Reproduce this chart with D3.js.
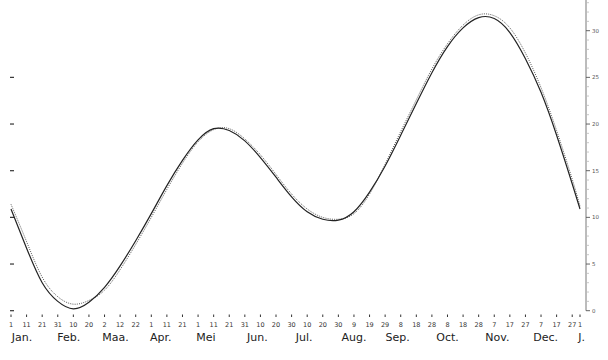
<!DOCTYPE html>
<html>
<head>
<meta charset="utf-8">
<script src="https://cdn.jsdelivr.net/npm/d3@7"></script>
<style>
  body { margin: 0; background: #fff; }
  svg { display: block; }
</style>
</head>
<body>
<div id="chart"></div>
<script>
const width = 608, height = 360

// DATA (day offset from 1 Jan)
const days = [0,10,20,30,40,50,60,70,80,90,100,110,120,130,140,150,160,170,180,190,200,210,220,230,240,250,260,270,280,290,300,310,320,330,340,350,360,365]
const solidValues = [10.9,6.7,3.0,1.0,0.2,0.9,2.5,4.8,7.5,10.4,13.4,16.1,18.3,19.5,19.3,18.2,16.4,14.3,12.2,10.6,9.8,9.7,10.6,12.7,15.5,18.8,22.2,25.5,28.3,30.3,31.4,31.3,29.8,27.0,23.4,18.8,13.6,10.9]
const dottedValues = [11.4,7.4,3.6,1.5,0.7,1.1,2.2,4.4,7.1,10.0,13.0,15.8,18.1,19.4,19.5,18.4,16.7,14.6,12.5,10.9,10.0,9.8,10.4,12.5,15.7,19.2,22.6,25.9,28.6,30.6,31.7,31.6,30.3,27.6,23.9,19.3,14.1,11.2]

// x tick labels (every 10 days + next 1 Jan)
const tickDays = days
const tickLabels = ["1","11","21","31","10","20","2","12","22","1","11","21","1","11","21","31","10","20","30","10","20","30","9","19","29","8","18","28","8","18","28","7","17","27","7","17","27","1"]

// month labels and where they sit (day offset)
const months = ["Jan.","Feb.","Maa.","Apr.","Mei","Jun.","Jul.","Aug.","Sep.","Oct.","Nov.","Dec.","J."]
const monthDays = [7,37,67,96,125,158,188,220,248,280,312,343,366]

// right axis
const yMajor = [0,5,10,15,20,25,30]
const yMinor = d3.range(0,34)
const leftTicks = [0,5,10,15,20,25]

const svg = d3.select("#chart")
  .append("svg")
    .attr("width", width)
    .attr("height", height)

// SCALES
const xScale = d3.scaleLinear()
  .domain([0, 365])
  .range([11, 580])

const yScale = d3.scaleLinear()
  .domain([0, 30])
  .range([310.7, 30.7])

// RIGHT AXIS
const axisX = 586
svg.append("line")
  .attr("x1", axisX).attr("x2", axisX)
  .attr("y1", yScale(33.5)).attr("y2", yScale(0))
  .attr("stroke", "#555")
  .attr("stroke-width", 0.8)

svg.append("g")
  .selectAll("line")
  .data(yMinor.filter(d => !yMajor.includes(d)))
  .join("line")
    .attr("x1", axisX + 1.5).attr("x2", axisX + 2.5)
    .attr("y1", d => yScale(d)).attr("y2", d => yScale(d))
    .attr("stroke", "#777")
    .attr("stroke-width", 0.8)

svg.append("g")
  .selectAll("line")
  .data(yMajor)
  .join("line")
    .attr("x1", axisX).attr("x2", axisX + 4)
    .attr("y1", d => yScale(d)).attr("y2", d => yScale(d))
    .attr("stroke", "#555")
    .attr("stroke-width", 0.9)

svg.append("g")
  .selectAll("text")
  .data(yMajor)
  .join("text")
    .attr("x", axisX + 6)
    .attr("y", d => yScale(d) + 2)
    .text(d => d)
    .attr("font-family", "DejaVu Sans")
    .attr("font-size", "5.5")
    .attr("fill", "#555")

// LEFT TICKS
svg.append("g")
  .selectAll("line")
  .data(leftTicks)
  .join("line")
    .attr("x1", 10).attr("x2", 14)
    .attr("y1", d => yScale(d)).attr("y2", d => yScale(d))
    .attr("stroke", "#333")
    .attr("stroke-width", 1.2)

// X TICKS
svg.append("g")
  .selectAll("line")
  .data(tickDays)
  .join("line")
    .attr("x1", d => xScale(d)).attr("x2", d => xScale(d))
    .attr("y1", 314.5).attr("y2", 317)
    .attr("stroke", "#333")
    .attr("stroke-width", 1)

svg.append("g")
  .selectAll("text")
  .data(tickDays)
  .join("text")
    .attr("x", d => xScale(d))
    .attr("y", 327)
    .attr("text-anchor", "middle")
    .text((d,i) => tickLabels[i])
    .attr("font-family", "DejaVu Sans")
    .attr("font-size", "6.5")
    .attr("fill", "#333")

svg.append("g")
  .selectAll("text")
  .data(months)
  .join("text")
    .attr("x", (d,i) => xScale(monthDays[i]))
    .attr("y", 340.5)
    .attr("text-anchor", "middle")
    .text(d => d)
    .attr("font-family", "DejaVu Sans")
    .attr("font-size", "11")
    .attr("fill", "#222")

// LINES
const line = d3.line()
  .x(d => xScale(d[0]))
  .y(d => yScale(d[1]))
  .curve(d3.curveNatural)

svg.append("path")
  .datum(days.map((d,i) => [d, dottedValues[i]]))
  .attr("d", line)
  .attr("fill", "none")
  .attr("stroke", "#444")
  .attr("stroke-width", 0.9)
  .attr("stroke-dasharray", "1,1.2")

svg.append("path")
  .datum(days.map((d,i) => [d, solidValues[i]]))
  .attr("d", line)
  .attr("fill", "none")
  .attr("stroke", "#222")
  .attr("stroke-width", 1.2)
</script>
</body>
</html>
